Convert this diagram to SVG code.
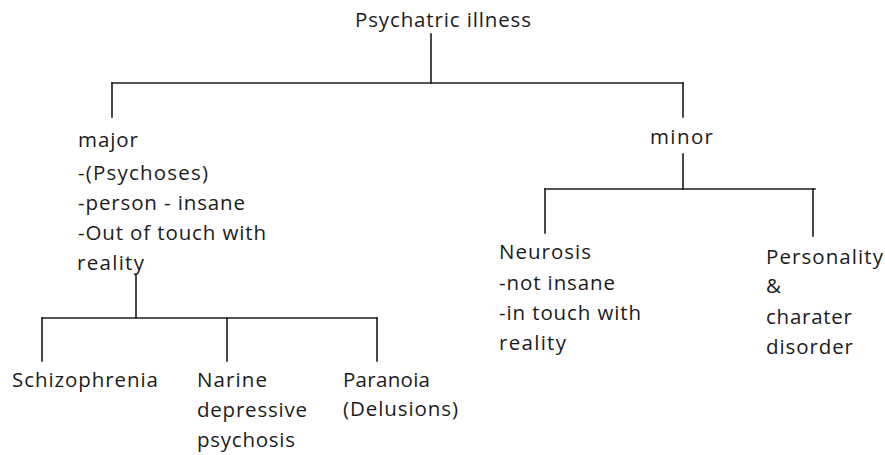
<svg xmlns="http://www.w3.org/2000/svg" width="885" height="455" viewBox="0 0 885 455">
  <style>
    .lbl { font-family: "Open Sans", "Liberation Sans", sans-serif; font-size: 20.5px; fill: #1b1b1b; }
    .conn line { stroke: #1b1b1b; stroke-width: 1.6; stroke-linecap: square; }
  </style>
  <rect width="885" height="455" fill="#ffffff"/>

  <!-- connectors -->
  <g id="connectors" class="conn">
    <!-- root to first split -->
    <line x1="431" y1="34" x2="431" y2="83"/>
    <line x1="112" y1="83" x2="683" y2="83"/>
    <line x1="112" y1="83" x2="112" y2="117"/>
    <line x1="683" y1="83" x2="683" y2="117"/>
    <!-- major branch -->
    <line x1="136" y1="274" x2="136" y2="318"/>
    <line x1="42" y1="318" x2="377" y2="318"/>
    <line x1="42" y1="318" x2="42" y2="361"/>
    <line x1="227" y1="318" x2="227" y2="361"/>
    <line x1="377" y1="318" x2="377" y2="361"/>
    <!-- minor branch -->
    <line x1="683" y1="154" x2="683" y2="189"/>
    <line x1="545" y1="189" x2="815" y2="189"/>
    <line x1="545" y1="189" x2="545" y2="233"/>
    <line x1="813" y1="189" x2="813" y2="236"/>
  </g>

  <g id="root">
    <text class="lbl" x="355" y="27" textLength="176" lengthAdjust="spacing">Psychatric illness</text>
  </g>

  <g id="major">
    <text class="lbl" x="78" y="147" textLength="60" lengthAdjust="spacing">major</text>
    <text class="lbl" x="78" y="180" textLength="130" lengthAdjust="spacing">-(Psychoses)</text>
    <text class="lbl" x="78" y="210" textLength="167" lengthAdjust="spacing">-person - insane</text>
    <text class="lbl" x="78" y="240" textLength="188" lengthAdjust="spacing">-Out of touch with</text>
    <text class="lbl" x="77" y="270" textLength="67" lengthAdjust="spacing">reality</text>
  </g>

  <g id="minor">
    <text class="lbl" x="650" y="144" textLength="63" lengthAdjust="spacing">minor</text>
  </g>

  <g id="schizophrenia">
    <text class="lbl" x="12" y="387" textLength="146" lengthAdjust="spacing">Schizophrenia</text>
  </g>

  <g id="narine">
    <text class="lbl" x="197" y="387" textLength="70" lengthAdjust="spacing">Narine</text>
    <text class="lbl" x="197" y="417" textLength="110" lengthAdjust="spacing">depressive</text>
    <text class="lbl" x="197" y="447" textLength="98" lengthAdjust="spacing">psychosis</text>
  </g>

  <g id="paranoia">
    <text class="lbl" x="343" y="387" textLength="87" lengthAdjust="spacing">Paranoia</text>
    <text class="lbl" x="343" y="416" textLength="115" lengthAdjust="spacing">(Delusions)</text>
  </g>

  <g id="neurosis">
    <text class="lbl" x="499" y="259" textLength="92" lengthAdjust="spacing">Neurosis</text>
    <text class="lbl" x="499" y="290" textLength="116" lengthAdjust="spacing">-not insane</text>
    <text class="lbl" x="499" y="320" textLength="142" lengthAdjust="spacing">-in touch with</text>
    <text class="lbl" x="499" y="350" textLength="67" lengthAdjust="spacing">reality</text>
  </g>

  <g id="personality">
    <text class="lbl" x="766" y="264" textLength="117" lengthAdjust="spacing">Personality</text>
    <text class="lbl" x="766" y="293">&amp;</text>
    <text class="lbl" x="766" y="324" textLength="86" lengthAdjust="spacing">charater</text>
    <text class="lbl" x="766" y="354" textLength="87" lengthAdjust="spacing">disorder</text>
  </g>
</svg>
